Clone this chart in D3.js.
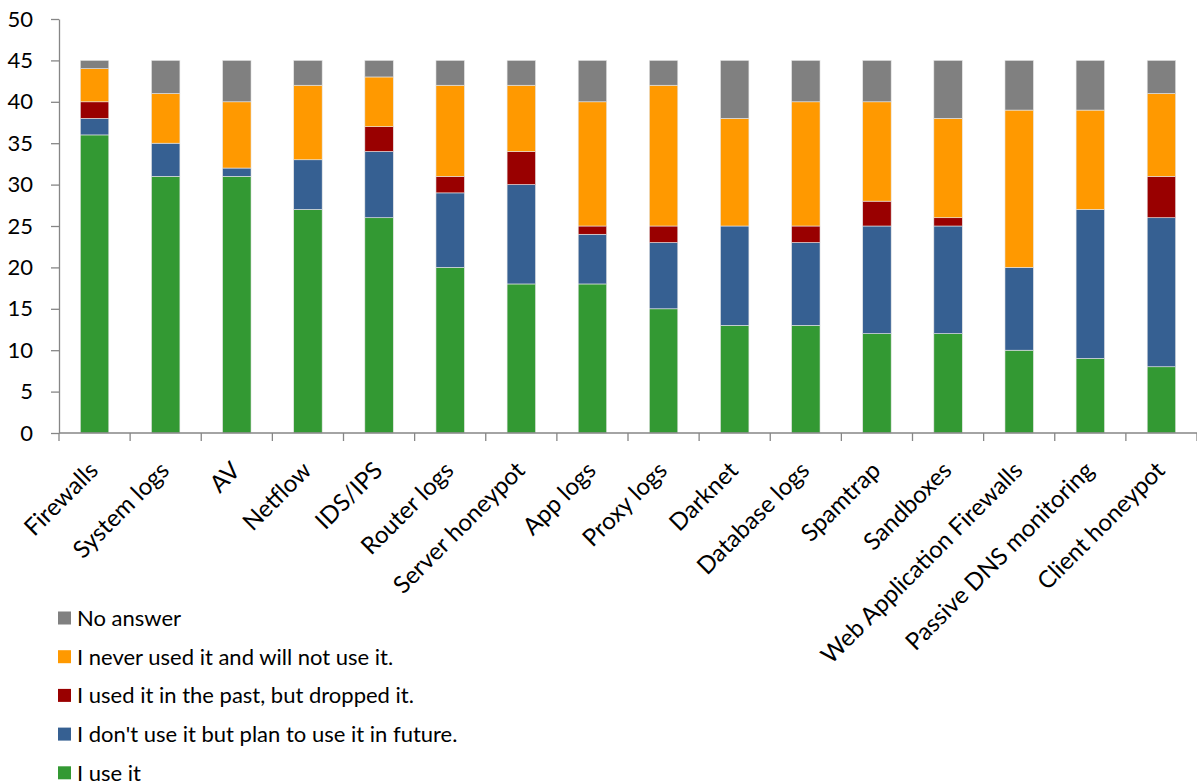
<!DOCTYPE html>
<html lang="en">
<head>
<meta charset="UTF-8">
<title>Data sources usage</title>
<style>
  body { margin: 0; background: #fff; }
  text { font-family: Lato, "Open Sans", sans-serif; fill: #000; }
  .axis path, .axis line { stroke: #868686; stroke-width: 1.3; }
</style>
</head>
<body>
<div id="chart"></div>
<script src="https://cdnjs.cloudflare.com/ajax/libs/d3/7.8.5/d3.min.js"></script>
<script>
// categories + values, bottom to top of stack
var categories = ["Firewalls", "System logs", "AV", "Netflow", "IDS/IPS", "Router logs",
  "Server honeypot", "App logs", "Proxy logs", "Darknet", "Database logs", "Spamtrap",
  "Sandboxes", "Web Application Firewalls", "Passive DNS monitoring", "Client honeypot"];

var useIt     = [36, 31, 31, 27, 26, 20, 18, 18, 15, 13, 13, 12, 12, 10,  9,  8];
var planIt    = [ 2,  4,  1,  6,  8,  9, 12,  6,  8, 12, 10, 13, 13, 10, 18, 18];
var dropped   = [ 2,  0,  0,  0,  3,  2,  4,  1,  2,  0,  2,  3,  1,  0,  0,  5];
var neverUse  = [ 4,  6,  8,  9,  6, 11,  8, 15, 17, 13, 15, 12, 12, 19, 12, 10];
var noAnswer  = [ 1,  4,  5,  3,  2,  3,  3,  5,  3,  7,  5,  5,  7,  6,  6,  4];

var seriesNames = ["I use it", "I don't use it but plan to use it in future.",
  "I used it in the past, but dropped it.", "I never used it and will not use it.", "No answer"];
var seriesColors = ["#339933", "#366092", "#990000", "#FF9900", "#808080"];
var yTicks = [0, 5, 10, 15, 20, 25, 30, 35, 40, 45, 50];

var width = 1197, height = 784;
// note: "top" is taken by window.top, so use other names
var plotLeft = 59, plotRight = 1197, plotTop = 19, plotBottom = 433;

var svg = d3.select('#chart').append('svg')
  .attr('width', width)
  .attr('height', height);

var rows = categories.map(function (c, i) {
  return { cat: c, s0: useIt[i], s1: planIt[i], s2: dropped[i], s3: neverUse[i], s4: noAnswer[i] };
});
var keys = ["s0", "s1", "s2", "s3", "s4"];
var stacked = d3.stack().keys(keys)(rows);

var x = d3.scaleBand().domain(categories).range([plotLeft, plotRight]).paddingInner(0.6).paddingOuter(0.3);
var y = d3.scaleLinear().domain([0, 50]).range([plotBottom, plotTop]);

// bars
svg.selectAll('g.layer')
  .data(stacked)
  .enter().append('g')
  .attr('class', 'layer')
  .attr('fill', function (d, i) { return seriesColors[i]; })
  .selectAll('rect')
  .data(function (d) { return d.filter(function (p) { return p[1] > p[0]; }); })
  .enter().append('rect')
  .attr('x', function (d) { return x(d.data.cat); })
  .attr('width', x.bandwidth())
  .attr('y', function (d) { return y(d[1]); })
  .attr('height', function (d) { return y(d[0]) - y(d[1]); })
  .attr('stroke', '#e6e6e6')
  .attr('stroke-width', 0.6);

// y axis
var yAxis = svg.append('g')
  .attr('class', 'axis')
  .attr('transform', 'translate(' + plotLeft + ',0)')
  .call(d3.axisLeft(y).tickValues(yTicks).tickSize(8).tickSizeOuter(0).tickPadding(18));
yAxis.selectAll('text').style('font-size', '22px');

// x axis with ticks between categories
var xAxis = svg.append('g')
  .attr('class', 'axis')
  .attr('transform', 'translate(0,' + plotBottom + ')');
xAxis.append('line')
  .attr('x1', plotLeft).attr('x2', plotRight).attr('y1', 0).attr('y2', 0);
var bandW = (plotRight - plotLeft) / categories.length;
xAxis.selectAll('line.tick')
  .data(d3.range(categories.length + 1))
  .enter().append('line')
  .attr('class', 'tick')
  .attr('x1', function (d) { return plotLeft + d * bandW; })
  .attr('x2', function (d) { return plotLeft + d * bandW; })
  .attr('y1', 0).attr('y2', 8);

xAxis.selectAll('text.cat')
  .data(categories)
  .enter().append('text')
  .attr('class', 'cat')
  .attr('text-anchor', 'end')
  .style('font-size', '24px')
  .attr('transform', function (d) {
    return 'translate(' + (x(d) + x.bandwidth() / 2 + 5) + ',39) rotate(-45)';
  })
  .text(function (d) { return d; });

// legend, top entry is last series
var legend = svg.append('g').attr('transform', 'translate(58,618)');
var legendOrder = [4, 3, 2, 1, 0];
var items = legend.selectAll('g')
  .data(legendOrder)
  .enter().append('g')
  .attr('transform', function (d, i) { return 'translate(0,' + (i * 38.7) + ')'; });
items.append('rect')
  .attr('x', 0).attr('y', -6.5).attr('width', 13).attr('height', 13)
  .attr('fill', function (d) { return seriesColors[d]; });
items.append('text')
  .attr('x', 19).attr('y', 0).attr('dy', '0.36em')
  .style('font-size', '22px')
  .text(function (d) { return seriesNames[d]; });
</script>
</body>
</html>
